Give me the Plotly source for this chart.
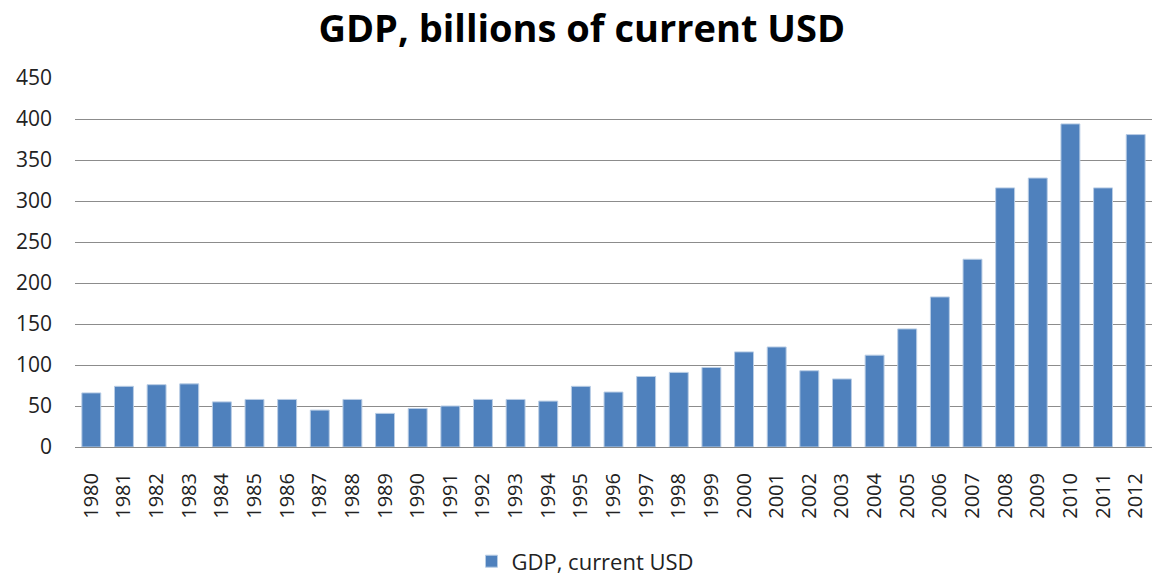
import plotly.graph_objects as go

years = [str(y) for y in range(1980, 2013)]
gdp_billions = [66, 74, 76, 77, 55, 58, 58, 45, 58, 41,
                47, 50, 58, 58, 56, 74, 67, 86, 91, 97,
                116, 122, 93, 83, 112, 144, 183, 229, 316, 328,
                394, 316, 381]
y_ticks = list(range(0, 451, 50))

fig = go.Figure()
fig.add_trace(go.Bar(
    x=years,
    y=gdp_billions,
    name="GDP, current USD",
    marker=dict(color="#4F81BD", line=dict(color="#B9CDE5", width=1)),
    showlegend=True,
))

fig.update_layout(
    width=1152,
    height=577,
    paper_bgcolor="white",
    plot_bgcolor="white",
    margin=dict(l=75, r=0, t=78, b=130, autoexpand=False),
    bargap=0.42,
    font=dict(family="Open Sans, DejaVu Sans, sans-serif", color="#222222", size=18),
    title=dict(
        text="<b>GDP, billions of current USD</b>",
        x=0.505, xref="container", xanchor="center",
        y=0.95, yref="container", yanchor="middle",
        font=dict(size=38, color="black"),
    ),
    xaxis=dict(
        type="category",
        tickangle=-90,
        showgrid=False,
        showline=True,
        linecolor="#888888",
        linewidth=1,
        ticks="",
        automargin=False,
        ticklabelstandoff=17,
        tickfont=dict(size=20),
    ),
    yaxis=dict(
        range=[0, 450],
        tickvals=y_ticks,
        showgrid=True,
        gridcolor="#8c8c8c",
        gridwidth=1,
        zeroline=False,
        ticks="",
        automargin=False,
        ticklabelstandoff=22,
        tickfont=dict(size=21),
    ),
    legend=dict(
        orientation="h",
        x=0.474, xanchor="center",
        y=-0.31, yanchor="middle",
        itemwidth=30,
        font=dict(size=22),
    ),
)

fig.write_html("out.html")
